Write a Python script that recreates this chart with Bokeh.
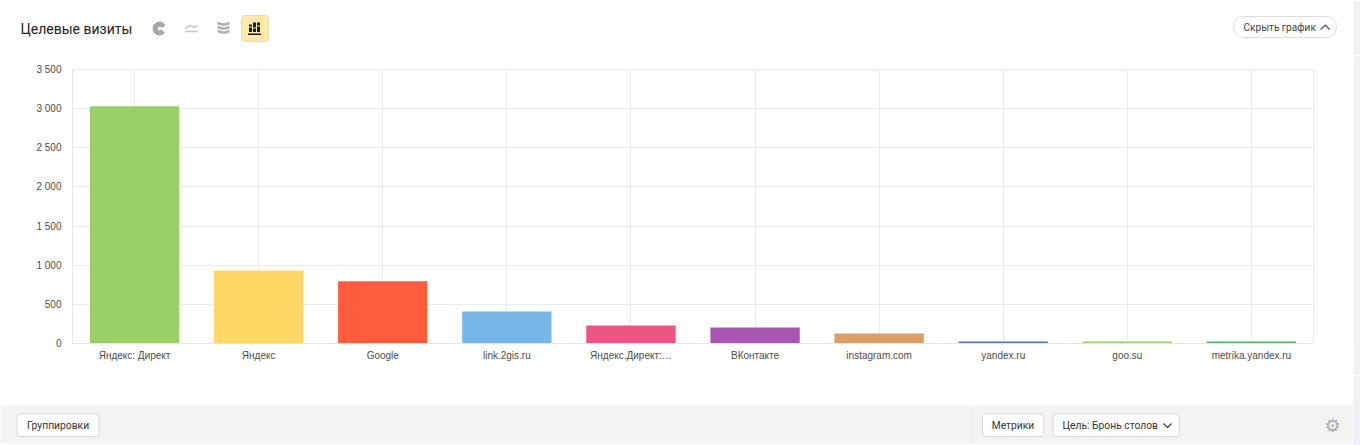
import math

from bokeh.core.properties import value
from bokeh.embed import file_html
from bokeh.layouts import column, row
from bokeh.models import Range1d
from bokeh.plotting import figure
from bokeh.resources import INLINE

# Data
sources = ["Яндекс: Директ", "Яндекс", "Google", "link.2gis.ru", "Яндекс.Директ:…",
           "ВКонтакте", "instagram.com", "yandex.ru", "goo.su", "metrika.yandex.ru"]
visits = [3030, 932, 795, 410, 230, 205, 128, 25, 25, 25]
bar_colors = ["#9ace67", "#ffd766", "#ff5c3e", "#78b6e8", "#ec5482",
              "#a855b4", "#dd9d68", "#4f74cf", "#98d468", "#4caf62"]
y_ticks = [0, 500, 1000, 1500, 2000, 2500, 3000, 3500]
y_tick_labels = ["0", "500", "1 000", "1 500", "2 000", "2 500", "3 000", "3 500"]

# Page layout, in page pixels
WIDTH, HEIGHT = 1360, 445
HEADER_B, BAND_T = 55, 375
CHART_R = 1353
FRAME_L, FRAME_R, FRAME_T, FRAME_B = 72, 1313, 69, 343
STRIP = "#eef2f7"


def chrome(x0, x1, y0, y1):
    # figure whose data coordinates are page pixels, frame fills the canvas
    f = figure(
        x_range=Range1d(x0, x1), y_range=Range1d(y1, y0),
        width=x1 - x0, height=y1 - y0, min_border=0,
        x_axis_type=None, y_axis_type=None,
        output_backend="svg", toolbar_location=None, outline_line_color=None,
    )
    f.grid.visible = False
    return f


def box(f, x0, y0, x1, y1, fill, line=None, radius=0):
    f.quad(left=x0, right=x1, top=y0, bottom=y1, fill_color=fill, line_color=line, border_radius=radius)


def label(f, x, y, text, size="10.3px", color="#333333", font="Roboto", align="left"):
    f.text([x], [y], text=[text], text_font=value(font), text_font_size=size, text_color=color,
           text_align=align, text_baseline="middle")


# Chart
p = figure(
    x_range=sources, y_range=(0, 3500),
    width=CHART_R, height=BAND_T - HEADER_B,
    min_border_left=FRAME_L, min_border_right=CHART_R - FRAME_R,
    min_border_top=FRAME_T - HEADER_B, min_border_bottom=BAND_T - FRAME_B,
    output_backend="svg", toolbar_location=None,
    outline_line_color="#ebebeb",
)
p.vbar(x=sources, top=visits, width=0.72, fill_color=bar_colors, line_color=None)
p.xgrid.grid_line_color = "#ebebeb"
p.ygrid.grid_line_color = "#ebebeb"
p.yaxis.ticker = y_ticks
p.yaxis.major_label_overrides = dict(zip(y_ticks, y_tick_labels))
for ax in (p.xaxis[0], p.yaxis[0]):
    ax.axis_line_color = "#e6e6e6"
    ax.major_tick_line_color = None
    ax.minor_tick_line_color = None
    ax.major_tick_out = 0
    ax.major_tick_in = 0
    ax.major_label_text_font = "Liberation Sans"
    ax.major_label_text_font_size = "10px"
    ax.major_label_text_color = "#4d4d4d"
p.yaxis.major_label_standoff = 11
p.xaxis.major_label_standoff = 6

strip = chrome(CHART_R, WIDTH, HEADER_B, BAND_T)
strip.background_fill_color = STRIP
strip.border_fill_color = STRIP

# Header
top = chrome(0, WIDTH, 0, HEADER_B)
box(top, CHART_R, 0, WIDTH, HEADER_B, STRIP)
label(top, 20, 28, "Целевые визиты", size="14px", color="#222222")

# chart type icons
top.annular_wedge(x=[159], y=[28], inner_radius=2.2, outer_radius=6.5, start_angle=math.radians(30),
                  end_angle=math.radians(320), color="#a8a8a8")
top.line([185, 190, 193, 197], [28, 25, 27, 25], line_color="#c4c4c4", line_width=1.5)
top.line([185, 197], [31, 31], line_color="#c4c4c4", line_width=1.5)
for y in (23, 27, 31):
    top.line([217, 222, 225, 229], [y - 0.5, y + 1, y + 1, y - 0.5], line_color="#b0b0b0", line_width=2.5)
box(top, 241, 15, 268, 41, "#fde9a9", line="#eedc9f", radius=3)
for x0, y0, gap in [(248.5, 24, 26), (252.5, 22, 27), (256.5, 22, 25)]:
    box(top, x0, y0, x0 + 3, 31.5, "#1a1a1a")
    box(top, x0, gap, x0 + 3, gap + 1, "#fde9a9")
box(top, 247.5, 33, 260.5, 34.5, "#1a1a1a")

# hide chart button
box(top, 1233, 16, 1336, 37, "white", line="#dddddd", radius=10)
label(top, 1243, 26.5, "Скрыть график", size="10.1px", color="#444444")
top.line([1320, 1325, 1329], [29, 24.5, 29], line_color="#555555", line_width=1.2)

# Bottom band
bottom = chrome(0, WIDTH, BAND_T, HEIGHT)
box(bottom, CHART_R, BAND_T, WIDTH, HEIGHT, STRIP)
box(bottom, 0, 405, CHART_R, 443, "#f4f3f1")
box(bottom, 971, 405, 972, 443, "#ebebeb")
box(bottom, 16.5, 413.5, 98.5, 436, "white", line="#d9d9d9", radius=2)
label(bottom, 57.5, 424.5, "Группировки", align="center")
box(bottom, 982, 413.5, 1043.5, 436, "white", line="#d9d9d9", radius=2)
label(bottom, 1012.5, 424.5, "Метрики", align="center")
box(bottom, 1052.5, 413.5, 1179, 436, "white", line="#d9d9d9", radius=2)
label(bottom, 1062, 424.5, "Цель: Бронь столов")
bottom.line([1163, 1167, 1171], [423, 427, 423], line_color="#444444", line_width=1.2)
label(bottom, 1332, 425, "⚙", size="18px", color="#aaaaaa", font="DejaVu Sans", align="center")

page = column(top, row(p, strip, spacing=0), bottom, spacing=0)
open("out.html", "w").write(file_html(page, INLINE))
